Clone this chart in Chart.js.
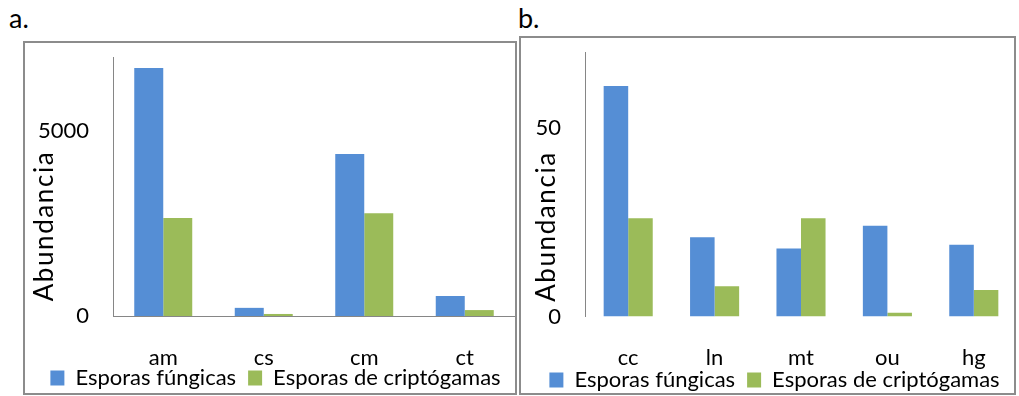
<!DOCTYPE html>
<html>
<head>
<meta charset="utf-8">
<script src="https://cdn.jsdelivr.net/npm/chart.js@4.4.1/dist/chart.umd.min.js"></script>
<style>
  html, body { margin: 0; padding: 0; background: #fff; width: 1019px; height: 396px; overflow: hidden; }
  .tag { position: absolute; font-family: Lato, sans-serif; font-size: 27px; line-height: 1; color: #000; }
  .wrap { position: absolute; }
  .frame { position: absolute; box-sizing: border-box; border: 2px solid #8c8c8c; pointer-events: none; }
</style>
</head>
<body>
<div class="tag" style="left:9px; top:4px;">a.</div>
<div class="tag" style="left:518px; top:4px;">b.</div>
<div class="wrap" style="left:25px; top:43px;"><canvas id="chartA" width="490" height="370"></canvas></div>
<div class="wrap" style="left:521px; top:38px;"><canvas id="chartB" width="497" height="370"></canvas></div>
<div class="frame" style="left:23px; top:41px; width:494px; height:354px;"></div>
<div class="frame" style="left:519px; top:36px; width:497px; height:359px;"></div>
<script>
// Series names shared by both panels
const seriesNames = ['Esporas fúngicas', 'Esporas de criptógamas'];
const yTitle = 'Abundancia';

// Panel a
const sitesA = ['am', 'cs', 'cm', 'ct'];
const fungalA = [6700, 220, 4380, 540];
const cryptoA = [2650, 55, 2780, 160];
const yTicksA = [0, 5000];
const yMaxA = 7000;

// Panel b
const sitesB = ['cc', 'ln', 'mt', 'ou', 'hg'];
const fungalB = [61, 21, 18, 24, 19];
const cryptoB = [26, 8, 26, 1, 7];
const yTicksB = [0, 50];
const yMaxB = 70;

const FONT = 'Lato, "Open Sans", sans-serif';
const FONT_SIZE = 22;
const BLUE = '#558ED5';
const GREEN = '#9BBB59';
const AXIS = '#868686';

// Rotated y-axis title, placed relative to the plot area
const axisTitle = {
  id: 'axisTitle',
  afterDraw(chart, args, opts) {
    const { ctx, chartArea } = chart;
    ctx.save();
    ctx.font = opts.size + 'px ' + FONT;
    ctx.letterSpacing = opts.spacing + 'px';
    ctx.fillStyle = '#000';
    ctx.translate(chartArea.left - opts.dx, chartArea.bottom - opts.dy);
    ctx.rotate(-Math.PI / 2);
    ctx.textAlign = 'center';
    ctx.textBaseline = 'middle';
    ctx.fillText(opts.text, 0, 0);
    ctx.restore();
  }
};

// Category labels sit lower than the x-axis box, so let them draw past its bottom edge
const labelRoom = {
  id: 'labelRoom',
  afterLayout(chart) {
    chart.scales.x.bottom = chart.height;
  }
};

function makeChart(id, cfg) {
  return new Chart(document.getElementById(id), {
    type: 'bar',
    plugins: [axisTitle, labelRoom],
    data: {
      labels: cfg.labels,
      datasets: [
        { label: seriesNames[0], data: cfg.fungal, backgroundColor: BLUE },
        { label: seriesNames[1], data: cfg.crypto, backgroundColor: GREEN }
      ]
    },
    options: {
      responsive: false,
      animation: false,
      events: [],
      datasets: { bar: { categoryPercentage: cfg.catPct, barPercentage: 1, borderWidth: 0 } },
      layout: { padding: cfg.padding },
      scales: {
        x: {
          grid: { display: false, drawTicks: false },
          border: { display: cfg.baseline, color: AXIS, width: 1 },
          ticks: { color: '#000', font: { family: FONT, size: FONT_SIZE }, padding: cfg.xPad, maxRotation: 0, autoSkip: false },
          afterFit(s) { s.height = cfg.xHeight; s.paddingLeft = 0; s.paddingRight = 0; }
        },
        y: {
          min: 0,
          max: cfg.yMax,
          grid: { display: false, drawTicks: false },
          border: { display: true, color: AXIS, width: 1 },
          ticks: { color: '#000', font: { family: FONT, size: FONT_SIZE }, padding: 24, callback: v => String(v) },
          afterBuildTicks(s) { s.ticks = cfg.yTicks.map(v => ({ value: v })); },
          afterFit(s) { s.width = cfg.yWidth; s.paddingTop = 0; s.paddingBottom = 0; }
        }
      },
      plugins: {
        legend: {
          position: 'bottom',
          labels: { color: '#000', font: { family: FONT, size: FONT_SIZE }, boxWidth: 14, boxHeight: 15, padding: 12 }
        },
        tooltip: { enabled: false },
        axisTitle: { text: yTitle, size: 26, spacing: 1.6, dx: cfg.titleDx, dy: 90 }
      }
    }
  });
}

makeChart('chartA', {
  labels: sitesA, fungal: fungalA, crypto: cryptoA, yTicks: yTicksA, yMax: yMaxA,
  catPct: 0.577, baseline: true, xPad: 29, xHeight: 39, yWidth: 77, titleDx: 68,
  padding: { left: 11, right: 0, top: 14, bottom: 14 }
});

makeChart('chartB', {
  labels: sitesB, fungal: fungalB, crypto: cryptoB, yTicks: yTicksB, yMax: yMaxB,
  catPct: 0.568, baseline: false, xPad: 28, xHeight: 40.5, yWidth: 53, titleDx: 38,
  padding: { left: 11, right: 1, top: 14, bottom: 7 }
});
</script>
</body>
</html>
